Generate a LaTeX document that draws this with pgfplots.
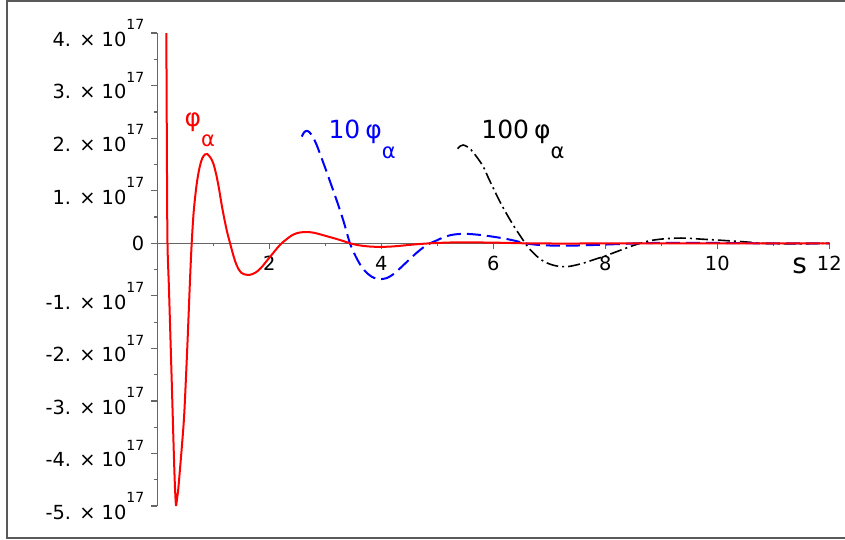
\documentclass[border=0pt]{standalone}
\usepackage{pgfplots}
\pgfplotsset{compat=1.18}
\usepackage{fontspec}
\setmainfont{DejaVu Sans}

% y tick label of the form "4. x 10^17"
\newcommand{\sci}[1]{#1. × 10\raisebox{8.3pt}{\fontsize{7}{8}\selectfont 17}}
\newcommand{\sub}{\raisebox{-10pt}{\fontsize{10.5}{12}\selectfont α}}

\begin{document}
\begin{tikzpicture}[x=1pt,y=1pt]
\useasboundingbox (-78.65,-148.35) rectangle (343.85,121.65);
\draw[line width=1pt, black!65] (345,121.15) -- (-75.15,121.15) -- (-75.15,-147.1) -- (345,-147.1);
\begin{axis}[
  at={(0,0)}, anchor=origin,
  scale only axis, width=336pt, height=236.5pt,
  xmin=0, xmax=12, ymin=-5, ymax=4,
  axis lines=middle,
  axis line style={line width=0.7pt, black!60},
  every inner x axis line/.append style={-},
  every inner y axis line/.append style={-},
  tick align=outside,
  major tick length=3pt, minor tick length=1.5pt,
  tick style={line width=0.6pt, black!60},
  xtick={2,4,6,8,10,12}, xticklabels={2,4,6,8,10,12},
  minor xtick={1,3,5,7,9,11},
  ytick={-5,-4,-3,-2,-1,0,1,2,3,4},
  yticklabels={\sci{-5},\sci{-4},\sci{-3},\sci{-2},\sci{-1},0,\sci{1},\sci{2},\sci{3},\sci{4}},
  minor ytick={-4.5,-3.5,-2.5,-1.5,-0.5,0.5,1.5,2.5,3.5},
  hide obscured y ticks=false,
  ticklabel style={font=\fontsize{9.7}{11}\selectfont},
]
% 100 phi_alpha (units of 1e17)
\addplot[black, line width=0.8pt, smooth, dash pattern=on 6pt off 2pt on 1pt off 2pt] coordinates {
(5.36,1.80) (5.41,1.85) (5.46,1.87) (5.53,1.84) (5.61,1.77) (5.70,1.65) (5.82,1.46)
(5.91,1.25) (6.00,1.05) (6.09,0.85) (6.18,0.67) (6.27,0.50) (6.36,0.34) (6.45,0.19)
(6.52,0.08) (6.57,0) (6.65,-0.11) (6.75,-0.22) (6.85,-0.31) (6.95,-0.37) (7.05,-0.41)
(7.15,-0.435) (7.25,-0.445) (7.35,-0.44) (7.45,-0.42) (7.60,-0.38) (7.80,-0.31)
(8.00,-0.24) (8.20,-0.16) (8.40,-0.08) (8.62,0) (8.80,0.05) (9.00,0.08) (9.20,0.095)
(9.35,0.10) (9.50,0.095) (9.70,0.08) (9.90,0.068) (10.1,0.055) (10.35,0.038)
(10.6,0.018) (10.8,0) (11.1,-0.01) (11.5,-0.01) (12,0)
};
% 10 phi_alpha
\addplot[blue, line width=1pt, smooth, dash pattern=on 7pt off 3pt] coordinates {
(2.58,2.03) (2.62,2.11) (2.67,2.14) (2.72,2.11) (2.78,2.02) (2.85,1.86) (2.92,1.66)
(3.00,1.43) (3.08,1.19) (3.16,0.95) (3.24,0.70) (3.32,0.44) (3.38,0.22) (3.44,0)
(3.52,-0.20) (3.62,-0.40) (3.72,-0.54) (3.82,-0.63) (3.92,-0.675) (4.01,-0.68)
(4.10,-0.66) (4.20,-0.60) (4.30,-0.51) (4.40,-0.41) (4.50,-0.31) (4.60,-0.21)
(4.70,-0.12) (4.80,-0.04) (4.87,0) (5.00,0.06) (5.10,0.11) (5.20,0.145) (5.30,0.167)
(5.45,0.18) (5.60,0.175) (5.80,0.155) (6.00,0.125) (6.20,0.09) (6.40,0.045) (6.57,0)
(6.80,-0.03) (7.10,-0.045) (7.40,-0.045) (7.80,-0.032) (8.20,-0.016) (8.60,0)
(9.00,0.008) (9.40,0.01) (9.90,0.007) (10.4,0.004) (10.8,0) (12,0)
};
% phi_alpha
\addplot[red, line width=1pt, smooth] coordinates {
(0.155,4.3) (0.161,4.0) (0.172,1.6) (0.182,0) (0.209,-0.89) (0.257,-2.6) (0.298,-4.1)
(0.318,-4.70) (0.334,-4.98) (0.350,-4.88) (0.370,-4.72) (0.393,-4.45) (0.44,-3.85)
(0.482,-3.23) (0.536,-1.97) (0.584,-0.70) (0.614,0) (0.65,0.60) (0.70,1.10)
(0.75,1.42) (0.80,1.61) (0.85,1.69) (0.89,1.70) (0.95,1.63) (1.00,1.52) (1.05,1.32)
(1.10,1.05) (1.15,0.73) (1.20,0.45) (1.25,0.20) (1.30,0) (1.35,-0.20) (1.40,-0.37)
(1.45,-0.49) (1.50,-0.56) (1.55,-0.59) (1.65,-0.60) (1.75,-0.56) (1.85,-0.47)
(1.95,-0.34) (2.05,-0.21) (2.15,-0.08) (2.22,0) (2.30,0.07) (2.40,0.15) (2.50,0.195)
(2.60,0.212) (2.70,0.214) (2.80,0.20) (2.90,0.173) (3.00,0.143) (3.10,0.113)
(3.20,0.083) (3.30,0.05) (3.38,0.022) (3.44,0) (3.60,-0.038) (3.80,-0.062)
(4.00,-0.068) (4.20,-0.06) (4.40,-0.041) (4.60,-0.021) (4.87,0) (5.20,0.0145)
(5.45,0.0185) (5.80,0.0155) (6.20,0.009) (6.57,0) (7.30,-0.0045) (8.60,0) (12,0)
};
\node[red, anchor=base west, inner sep=0, font=\fontsize{12.5}{15}\selectfont] at (axis cs:0.48,2.22) {φ\sub};
\node[blue, anchor=base west, inner sep=0, font=\fontsize{12.5}{15}\selectfont] at (axis cs:3.05,2.0) {10\hspace{0.2em}φ\sub};
\node[black, anchor=base west, inner sep=0, font=\fontsize{12.5}{15}\selectfont] at (axis cs:5.78,2.0) {100\hspace{0.2em}φ\sub};
\node[font=\fontsize{14}{16}\selectfont, inner sep=0] at (axis cs:11.47,-0.43) {s};
\end{axis}
\end{tikzpicture}
\end{document}
